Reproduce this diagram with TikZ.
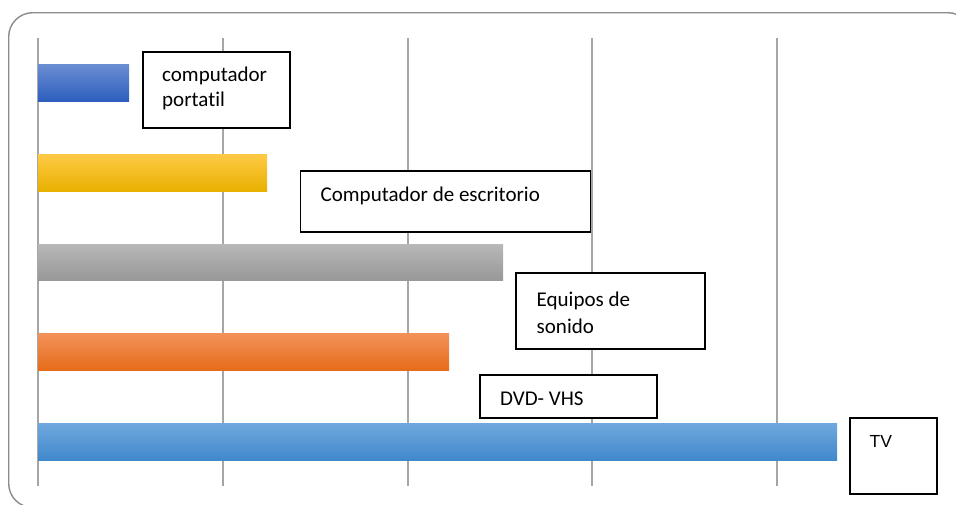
\documentclass[tikz,border=0pt]{standalone}
\usepackage{fontspec}
\setmainfont{Carlito}[Ligatures={NoCommon}]
\newfontfamily\arialf{Liberation Sans}
\begin{document}
\begin{tikzpicture}[x=1pt,y=-1pt,
  frame/.style={draw=black!45,line width=1.4pt,rounded corners=24pt},
  grid/.style={draw=black!35,line width=1.3pt},
  bar/.style={draw=none,inner sep=0pt,outer sep=0pt,anchor=north west},
  lbox/.style={draw=black,fill=white,line width=1.8pt,inner sep=0pt,anchor=north west},
  lbl/.style={inner sep=0pt,anchor=base west,font=\fontsize{21}{25}\selectfont},
  tvlbl/.style={inner sep=0pt,anchor=base west,font=\arialf\fontsize{17.5}{21}\selectfont}]
\useasboundingbox (0,0) rectangle (956,504);
\draw[frame] (8.7,12.7) rectangle (972,507.5);
% grid lines
\foreach \gx/\gn in {38/g0,223/g1,408/g2,592/g3,777/g4}{
  \coordinate (\gn t) at (\gx,38);
  \coordinate (\gn b) at (\gx,486);
  \draw[grid] (\gn t) -- (\gn b);
}
% bars
\node[bar,minimum width=91pt,minimum height=37pt,top color={rgb,255:red,108;green,142;blue,210},bottom color={rgb,255:red,44;green,94;blue,190}] (bar1) at (38,64) {};
\node[bar,minimum width=229pt,minimum height=37pt,top color={rgb,255:red,255;green,202;blue,70},middle color={rgb,255:red,255;green,192;blue,0},bottom color={rgb,255:red,232;green,176;blue,0}] (bar2) at (38,154) {};
\node[bar,minimum width=465pt,minimum height=36pt,top color={rgb,255:red,184;green,184;blue,184},bottom color={rgb,255:red,152;green,152;blue,152}] (bar3) at (38,244) {};
\node[bar,minimum width=411pt,minimum height=37pt,top color={rgb,255:red,242;green,146;blue,90},middle color={rgb,255:red,243;green,126;blue,44},bottom color={rgb,255:red,230;green,108;blue,26}] (bar4) at (38,333) {};
\node[bar,minimum width=799pt,minimum height=37pt,top color={rgb,255:red,112;green,168;blue,222},middle color={rgb,255:red,88;green,154;blue,218},bottom color={rgb,255:red,64;green,136;blue,204}] (bar5) at (38,423) {};
% label boxes
\node[lbox,minimum width=147pt,minimum height=76pt] (box1) at (142,51) {};
\node[lbl] (t1a) at (162,81) {computador};
\node[lbl] (t1b) at (162,106.7) {portatil};
\node[lbox,minimum width=290pt,minimum height=61pt] (box2) at (299.5,170) {};
\node[lbl] (t2) at (320.5,201) {Computador de escritorio};
\node[lbox,minimum width=189pt,minimum height=75.5pt] (box3) at (515,272.3) {};
\node[lbl] (t3a) at (536.5,306.7) {Equipos de};
\node[lbl] (t3b) at (536.5,333.3) {sonido};
\node[lbox,minimum width=177pt,minimum height=43pt] (box4) at (479,374) {};
\node[lbl] (t4) at (500,405) {DVD- VHS};
\node[lbox,minimum width=87pt,minimum height=76.5pt] (box5) at (848.7,416.7) {};
\node[tvlbl] (t5) at (869.5,447.3) {TV};
\end{tikzpicture}
\end{document}
